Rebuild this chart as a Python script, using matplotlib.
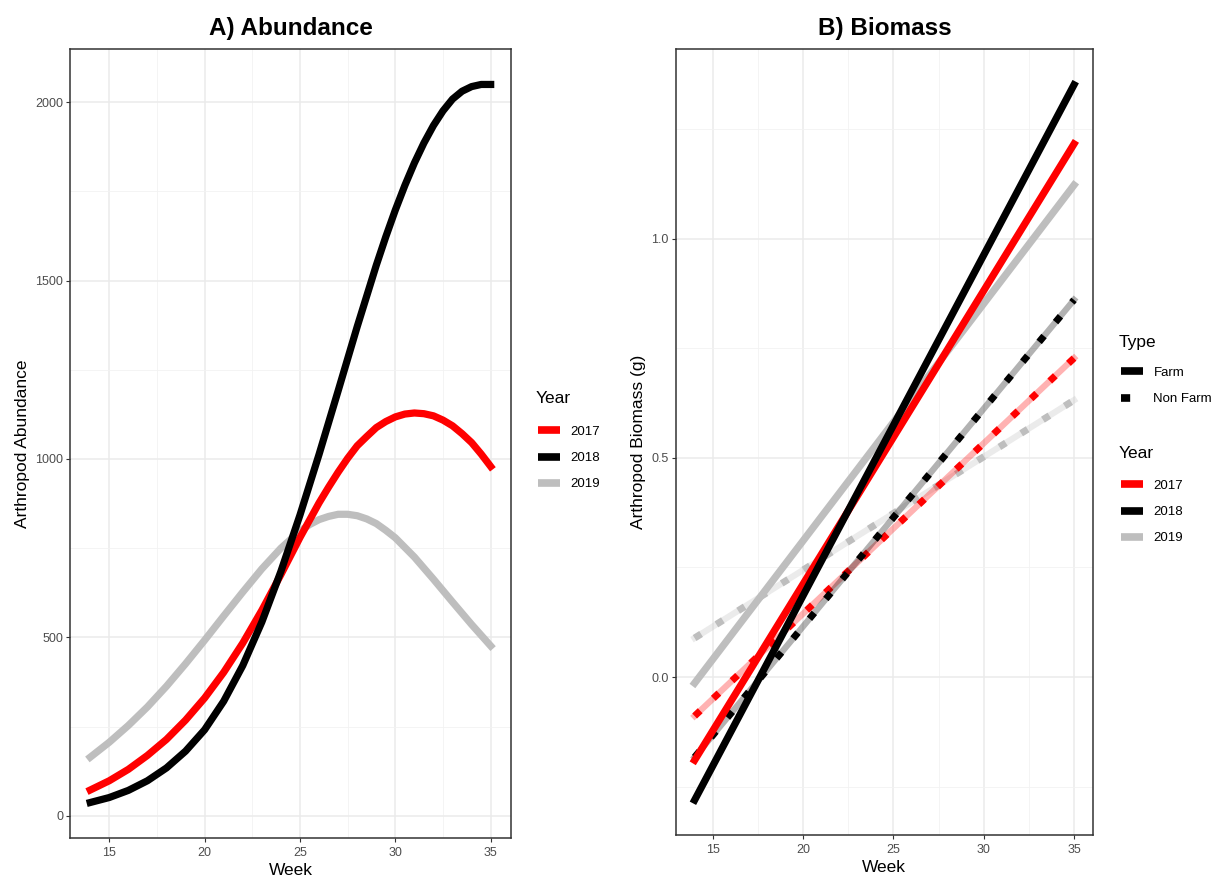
import matplotlib.pyplot as plt
from matplotlib.lines import Line2D

# ---- data ----
# A) Abundance, fitted curve per year (week, abundance)
weeks_2017 = [14, 15, 16, 17, 18, 19, 20, 21, 22, 23, 24, 25, 26, 26.5, 27,
              27.5, 28, 28.5, 29, 29.5, 30, 30.5, 31, 31.5, 32, 32.5, 33,
              33.5, 34, 34.5, 35]
abund_2017 = [72, 98, 130, 169, 214, 268, 330, 402, 484, 576, 676, 780, 877,
              921, 963, 1002, 1037, 1063, 1088, 1105, 1118, 1126, 1129, 1127,
              1121, 1109, 1093, 1071, 1046, 1014, 979]

weeks_2018 = [14, 15, 16, 17, 18, 19, 20, 21, 22, 23, 24, 25, 26, 27, 28,
              29, 29.5, 30, 30.5, 31, 31.5, 32, 32.5, 33, 33.5, 34, 34.5, 35]
abund_2018 = [37, 51, 71, 98, 134, 181, 241, 321, 421, 543, 685, 843, 1013,
              1191, 1371, 1543, 1623, 1698, 1767, 1830, 1886, 1935, 1976, 2009,
              2031, 2044, 2050, 2050]

weeks_2019 = [14, 15, 16, 17, 18, 19, 20, 21, 22, 23, 24, 25, 25.5, 26, 26.5,
              27, 27.5, 28, 28.5, 29, 29.5, 30, 31, 32, 33, 34, 35]
abund_2019 = [164, 206, 253, 305, 363, 426, 492, 560, 627, 692, 750, 798, 816,
              830, 839, 845, 845, 841, 832, 819, 800, 779, 725, 663, 599, 536,
              476]

# B) Biomass, linear fits (value at week 14, value at week 35)
bio_weeks = [14, 35]
bio_farm_2017 = [-0.19, 1.217]
bio_farm_2018 = [-0.281, 1.352]
bio_farm_2019 = [-0.014, 1.123]
bio_nonfarm_2017 = [-0.089, 0.728]
bio_nonfarm_2018 = [-0.183, 0.861]
bio_nonfarm_2019 = [0.089, 0.632]

years = ["2017", "2018", "2019"]
colors = {"2017": "#FF0000", "2018": "#000000", "2019": "#BEBEBE"}

plt.rcParams["font.family"] = ["Liberation Sans", "DejaVu Sans"]

W, H = 1226, 877
fig = plt.figure(figsize=(W / 100, H / 100), dpi=100)
ax1 = fig.add_axes([0.05726, 0.04447, 0.3593, 0.8997])
ax2 = fig.add_axes([0.5511, 0.04755, 0.3404, 0.8966])


def style_axes(ax):
    """theme_bw look"""
    ax.set_facecolor("white")
    ax.grid(True, which="major", color="#EBEBEB", linewidth=1.1, zorder=0)
    ax.grid(True, which="minor", color="#F2F2F2", linewidth=0.6, zorder=0)
    ax.set_axisbelow(True)
    for s in ax.spines.values():
        s.set_color("#333333")
        s.set_linewidth(1.1)
    ax.tick_params(which="major", length=3, width=0.8, color="#333333",
                   labelsize=9, labelcolor="#4D4D4D", pad=2)
    ax.tick_params(axis="x", which="major", pad=3.5)
    ax.tick_params(which="minor", length=0)
    ax.set_xlim(12.95, 36.05)
    ax.set_xticks([15, 20, 25, 30, 35])
    ax.set_xticks([17.5, 22.5, 27.5, 32.5], minor=True)
    ax.set_xlabel("Week", fontsize=12.5, labelpad=3)


def legend_block(handles, labels, title, x_px, title_y_px, top_px):
    """legend keys without frame, title as a separate text (ggplot style)"""
    fig.text(x_px / W, 1 - title_y_px / H, title, fontsize=12.5,
             va="center", ha="left")
    fig.legend(handles, labels, loc="upper left",
               bbox_to_anchor=((x_px - 9.5) / W, 1 - (top_px - 4) / H),
               bbox_transform=fig.transFigure, frameon=False,
               fontsize=9.5, handlelength=1.67, handletextpad=0.76,
               labelspacing=1.05, borderpad=0.4)


def key(color, ls="-"):
    return Line2D([], [], color=color, lw=5.5, linestyle=ls,
                  solid_capstyle="butt", dash_capstyle="butt")


# ---- A) Abundance ----
style_axes(ax1)
abund = {"2017": (weeks_2017, abund_2017),
         "2018": (weeks_2018, abund_2018),
         "2019": (weeks_2019, abund_2019)}
for y in ["2019", "2017", "2018"]:
    ax1.plot(abund[y][0], abund[y][1], color=colors[y], lw=5.2,
             solid_joinstyle="round", zorder=3)
ax1.set_ylim(-62.5, 2149.5)
ax1.set_yticks([0, 500, 1000, 1500, 2000])
ax1.set_yticks([250, 750, 1250, 1750], minor=True)
ax1.set_ylabel("Arthropod Abundance", fontsize=12.5, labelpad=4)
ax1.set_title("A) Abundance", fontsize=17.5, fontweight="bold", pad=10)

legend_block([key(colors[y]) for y in years], years, "Year", 536, 398, 418)

# ---- B) Biomass ----
style_axes(ax2)
farm = {"2017": bio_farm_2017, "2018": bio_farm_2018, "2019": bio_farm_2019}
nonfarm = {"2017": bio_nonfarm_2017, "2018": bio_nonfarm_2018,
           "2019": bio_nonfarm_2019}
for y in ["2019", "2017", "2018"]:
    ax2.plot(bio_weeks, nonfarm[y], color=colors[y], lw=4.5, alpha=0.3,
             zorder=2)
    ax2.plot(bio_weeks, nonfarm[y], color=colors[y], lw=5.0,
             linestyle=(0, (1.1, 2.6)), zorder=2)
for y in ["2019", "2017", "2018"]:
    ax2.plot(bio_weeks, farm[y], color=colors[y], lw=5.2, zorder=3)
ax2.set_ylim(-0.3614, 1.4338)
ax2.set_yticks([0.0, 0.5, 1.0])
ax2.set_yticklabels(["0.0", "0.5", "1.0"])
ax2.set_yticks([-0.25, 0.25, 0.75, 1.25], minor=True)
ax2.set_ylabel("Arthropod Biomass (g)", fontsize=12.5, labelpad=4)
ax2.set_title("B) Biomass", fontsize=17.5, fontweight="bold", pad=10)

legend_block([key("black"), key("black", (0, (1.2, 3)))],
             ["Farm", "Non Farm"], "Type", 1119, 342, 359)
legend_block([key(colors[y]) for y in years], years, "Year",
             1119, 453, 472)

plt.savefig("out.png", dpi=100)
